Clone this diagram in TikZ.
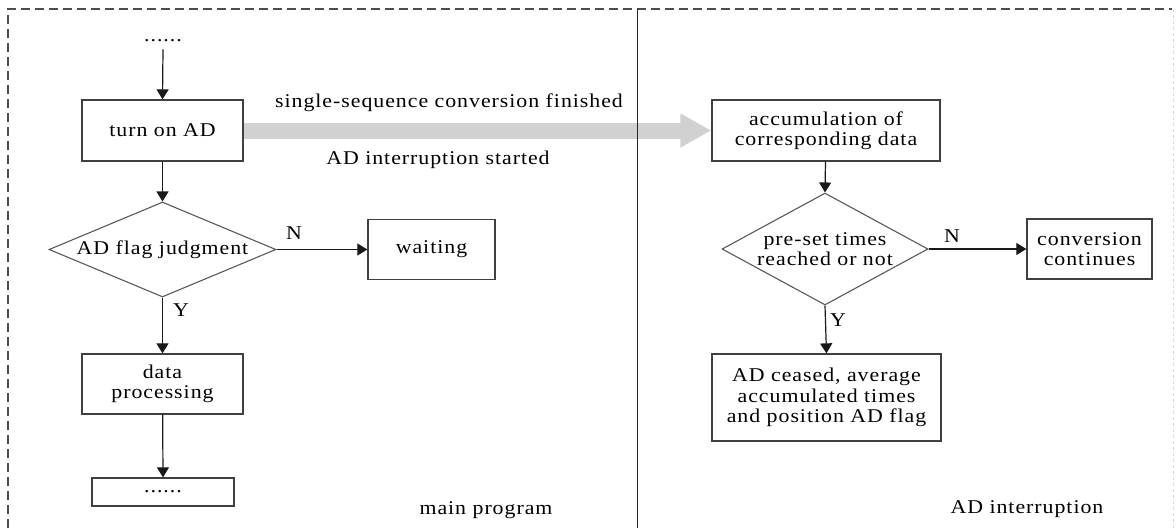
\documentclass[tikz,border=0pt]{standalone}
\usepackage{fontspec}
\setmainfont{Liberation Serif}[LetterSpace=5,FakeStretch=1.12]
\usetikzlibrary{arrows.meta,shapes.geometric}
\begin{document}
\begin{tikzpicture}[x=1pt,y=-1pt,
  every node/.style={font=\fontsize{19.5}{20.5}\selectfont, text=black},
  box/.style={draw=black!75, line width=1.3pt, inner sep=0pt, align=center},
  dia/.style={draw=black!65, line width=1.1pt, diamond, inner sep=0pt},
  lbl/.style={inner sep=0pt, align=center},
  arr/.style={draw=black!90, line width=1.2pt, -{Triangle[length=10pt,width=12pt]}},
  frame/.style={draw=black!70, line width=1.1pt, dash pattern=on 9pt off 5pt}
]
\useasboundingbox (0,0) rectangle (1176,528);
% frame
\draw[frame] (8,528) -- (8,9) -- (1172,9);
\draw[draw=black!15, line width=0.8pt, dash pattern=on 3pt off 3pt] (1173,9) -- (1173,528);

% left flow
\node[lbl] (top) at (163,41) {......};
\node[box, minimum width=161pt, minimum height=61pt] (ton) at (162.5,130.5) {turn on AD};
\node[dia, minimum width=227pt, minimum height=95pt] (d1) at (162.5,249.5) {};
\node[lbl] (d1t) at (d1) {AD flag judgment};
\node[box, minimum width=127pt, minimum height=60pt] (wait) at (431.5,249.5) {waiting};
\node[box, minimum width=161pt, minimum height=60pt] (dp) at (162.5,384) {data\\processing};
\node[box, minimum width=142pt, minimum height=28pt] (dots) at (163,492) {......};
\node[lbl] (n1) at (294,233) {N};
\node[lbl] (y1) at (181,310) {Y};
\node[lbl] (mp) at (486,510) {main program};

% right flow
\node[box, minimum width=228pt, minimum height=61pt] (acc) at (826,130.5) {accumulation of\\corresponding data};
\node[dia, minimum width=206pt, minimum height=112pt] (d2) at (825,249) {};
\node[lbl] (d2t) at (d2) {pre-set times\\reached or not};
\node[box, minimum width=125pt, minimum height=60pt] (conv) at (1089.5,249) {conversion\\continues};
\node[box, minimum width=229pt, minimum height=87pt] (ceased) at (826.5,397.5) {AD ceased, average\\accumulated times\\and position AD flag};
\node[lbl] (n2) at (952,236) {N};
\node[lbl] (y2) at (838,320) {Y};
\node[lbl] (adi) at (1027,509) {AD interruption};

% gray interrupt arrow
\draw[draw=black!18, line width=16pt, -{Triangle[length=31pt,width=32pt]}] (ton.east) -- (acc.west);
\node[lbl] (l1) at (449,103) {single-sequence conversion finished};
\node[lbl] (l2) at (438,160) {AD interruption started};

% divider
\draw[draw=black!85, line width=1pt] (637.5,9) -- (637.5,528);

% connectors
\draw[arr] (top.south) ++(0,7) -- (ton.north);
\draw[arr] (ton) -- (d1.north);
\draw[arr] (d1.east) -- (wait.west);
\draw[arr] (d1.south) -- (dp.north);
\draw[arr] (dp) -- (dots.north);
\draw[arr] (acc) -- (d2.north);
\draw[arr] (d2.east) -- (conv.west);
\draw[arr] (d2.south) -- (ceased.north);
\end{tikzpicture}
\end{document}
